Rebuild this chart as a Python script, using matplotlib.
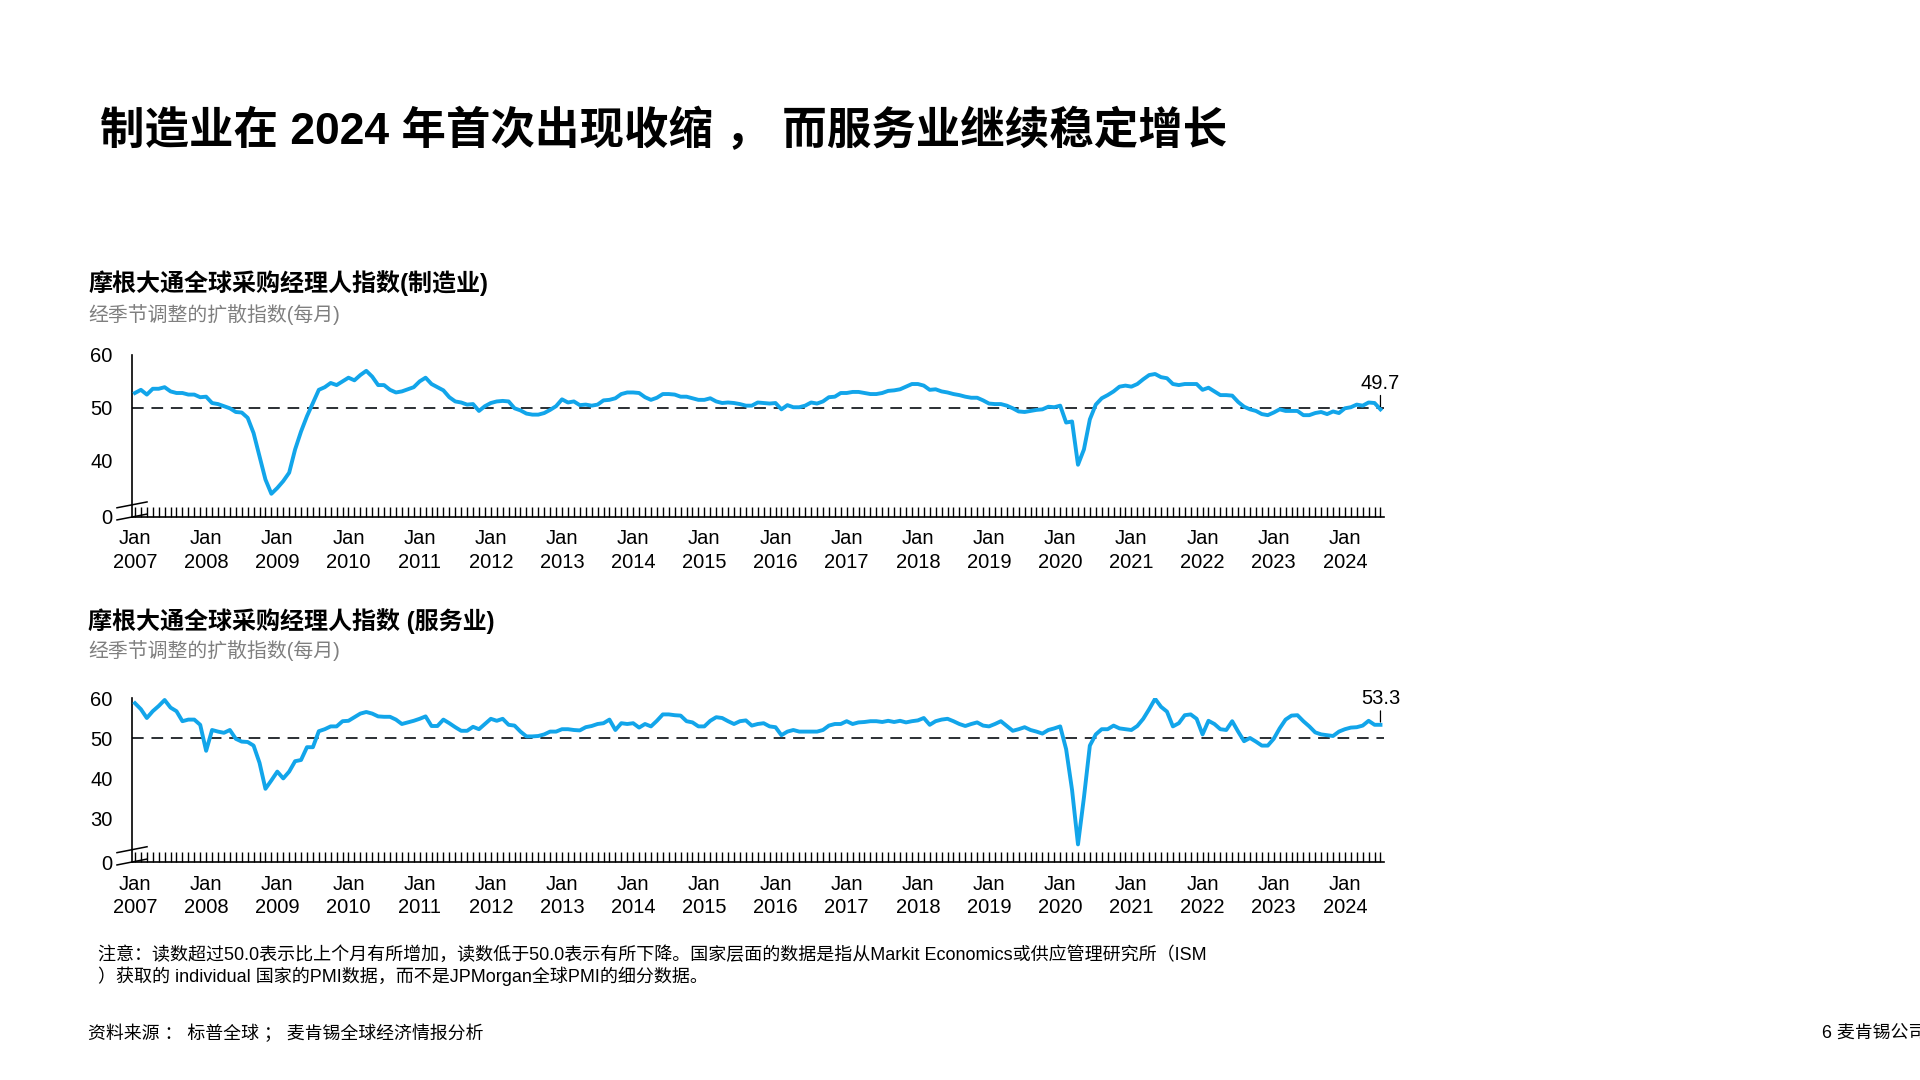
import numpy as np
import matplotlib
matplotlib.use("Agg")
import matplotlib.pyplot as plt
from matplotlib.ticker import MultipleLocator, FixedLocator

plt.rcParams['font.family'] = ['Liberation Sans', 'Noto Sans CJK SC', 'DejaVu Sans']

# JPMorgan global PMI, monthly, Jan 2007 - Jul 2024
mfg_pmi = [
    52.8, 53.4, 52.5, 53.6, 53.6, 53.9, 53.1, 52.8, 52.8, 52.5, 52.5, 52.0,  # 2007
    52.1, 50.9, 50.7, 50.3, 49.9, 49.2, 49.1, 48.1, 45.2, 40.8, 36.4, 33.7,  # 2008
    34.8, 36.1, 37.7, 42.1, 45.5, 48.4, 50.9, 53.4, 53.9, 54.7, 54.3, 55.0,  # 2009
    55.7, 55.2, 56.2, 57.0, 55.9, 54.3, 54.3, 53.4, 52.9, 53.1, 53.5, 53.9,  # 2010
    55.0, 55.7, 54.5, 53.9, 53.3, 52.0, 51.2, 51.0, 50.6, 50.7, 49.4, 50.3,  # 2011
    50.9, 51.2, 51.3, 51.2, 49.9, 49.5, 48.9, 48.7, 48.7, 49.0, 49.6, 50.3,  # 2012
    51.6, 51.0, 51.2, 50.5, 50.6, 50.4, 50.6, 51.4, 51.5, 51.8, 52.6, 52.9,  # 2013
    52.9, 52.8, 52.0, 51.5, 51.9, 52.6, 52.6, 52.5, 52.1, 52.1, 51.8, 51.5,  # 2014
    51.5, 51.8, 51.2, 50.9, 51.0, 50.9, 50.7, 50.4, 50.4, 51.0, 50.9, 50.8,  # 2015
    50.9, 49.7, 50.5, 50.1, 50.1, 50.4, 51.0, 50.8, 51.2, 52.0, 52.1, 52.8,  # 2016
    52.8, 53.0, 53.0, 52.8, 52.6, 52.6, 52.8, 53.2, 53.3, 53.5, 54.0, 54.5,  # 2017
    54.5, 54.2, 53.4, 53.5, 53.1, 52.9, 52.6, 52.4, 52.1, 51.9, 51.9, 51.4,  # 2018
    50.8, 50.7, 50.7, 50.4, 49.9, 49.3, 49.2, 49.4, 49.6, 49.7, 50.2, 50.1,  # 2019
    50.4, 47.2, 47.4, 39.2, 42.1, 47.8, 50.6, 51.8, 52.4, 53.1, 54.0, 54.2,  # 2020
    54.0, 54.5, 55.4, 56.2, 56.4, 55.8, 55.6, 54.5, 54.3, 54.5, 54.5, 54.5,  # 2021
    53.4, 53.8, 53.1, 52.4, 52.4, 52.3, 51.1, 50.2, 49.7, 49.4, 48.8, 48.6,  # 2022
    49.1, 49.7, 49.4, 49.4, 49.4, 48.6, 48.6, 49.0, 49.2, 48.8, 49.3, 49.0,  # 2023
    49.9, 50.1, 50.6, 50.4, 51.0, 50.9, 49.7,                                # 2024
]

svc_pmi = [
    58.7, 57.2, 55.0, 56.7, 58.0, 59.5, 57.6, 56.7, 54.2, 54.6, 54.6, 53.3,  # 2007
    46.8, 52.0, 51.6, 51.3, 52.0, 49.8, 49.1, 49.0, 48.1, 43.8, 37.3, 39.4,  # 2008
    41.6, 39.9, 41.6, 44.2, 44.5, 47.7, 47.7, 51.7, 52.2, 52.9, 52.9, 54.2,  # 2009
    54.3, 55.2, 56.1, 56.5, 56.1, 55.4, 55.3, 55.3, 54.6, 53.5, 53.9, 54.3,  # 2010
    54.8, 55.4, 53.0, 53.0, 54.6, 53.7, 52.7, 51.8, 51.8, 52.8, 52.2, 53.5,  # 2011
    54.8, 54.3, 54.8, 53.3, 53.1, 51.6, 50.4, 50.4, 50.5, 50.9, 51.6, 51.6,  # 2012
    52.2, 52.2, 52.0, 51.9, 52.7, 53.0, 53.5, 53.7, 54.6, 52.0, 53.7, 53.5,  # 2013
    53.7, 52.6, 53.5, 52.9, 54.3, 55.9, 55.9, 55.7, 55.6, 54.2, 53.9, 52.9,  # 2014
    52.9, 54.3, 55.2, 55.0, 54.2, 53.5, 54.2, 54.4, 53.1, 53.5, 53.7, 52.9,  # 2015
    52.7, 50.7, 51.6, 52.0, 51.6, 51.6, 51.6, 51.6, 52.0, 53.1, 53.5, 53.5,  # 2016
    54.2, 53.5, 53.9, 54.0, 54.2, 54.2, 54.0, 54.3, 54.0, 54.3, 53.9, 54.2,  # 2017
    54.4, 55.0, 53.3, 54.2, 54.6, 54.8, 54.2, 53.5, 53.0, 53.5, 53.9, 53.1,  # 2018
    52.9, 53.5, 54.2, 53.0, 51.8, 52.2, 52.7, 52.0, 51.6, 51.1, 52.0, 52.4,  # 2019
    52.9, 47.2, 37.0, 23.4, 35.1, 48.1, 50.9, 52.2, 52.2, 53.1, 52.4, 52.2,  # 2020
    52.0, 53.0, 54.8, 57.2, 59.8, 57.8, 56.6, 52.9, 53.7, 55.7, 55.9, 54.8,  # 2021
    50.9, 54.3, 53.5, 52.2, 52.0, 54.2, 51.6, 49.2, 50.0, 49.1, 48.1, 48.1,  # 2022
    49.8, 52.4, 54.6, 55.6, 55.7, 54.2, 52.9, 51.4, 50.9, 50.7, 50.5, 51.6,  # 2023
    52.2, 52.6, 52.7, 53.1, 54.3, 53.3, 53.3,                                # 2024
]

years = list(range(2007, 2025))
jan_labels = ["Jan\n%d" % y for y in years]

main_title = "制造业在 2024 年首次出现收缩 ， 而服务业继续稳定增长"
panels = [
    {"title": "摩根大通全球采购经理人指数(制造业)", "values": mfg_pmi,
     "yticks": [60, 50, 40], "ybottom": 29.3, "rect": [0.06875, 1 - 517 / 1080, 0.6521, 162 / 1080],
     "title_y": 283, "sub_y": 315},
    {"title": "摩根大通全球采购经理人指数 (服务业)", "values": svc_pmi,
     "yticks": [60, 50, 40, 30], "ybottom": 19.0, "rect": [0.06875, 1 - 862 / 1080, 0.6521, 164 / 1080],
     "title_y": 621, "sub_y": 651},
]
subtitle = "经季节调整的扩散指数(每月)"
note_lines = [
    "注意：读数超过50.0表示比上个月有所增加，读数低于50.0表示有所下降。国家层面的数据是指从Markit Economics或供应管理研究所（ISM",
    "）获取的 individual 国家的PMI数据，而不是JPMorgan全球PMI的细分数据。",
]
source = "资料来源 ： 标普全球 ； 麦肯锡全球经济情报分析"
page = "6 麦肯锡公司"

blue = "#12A5EA"
W, H = 1920, 1080

fig = plt.figure(figsize=(19.2, 10.8), dpi=100)
fig.patch.set_facecolor("white")

fig.text(100 / W, 1 - 131 / H, main_title, fontsize=32, fontweight="bold",
         va="center", ha="left", color="black")

for p in panels:
    ax = fig.add_axes(p["rect"])
    vals = p["values"]
    x = np.arange(len(vals))
    ax.plot(x, vals, color=blue, lw=2.8, solid_joinstyle="round", zorder=3)
    ax.axhline(50, color="#2b2f33", lw=1.4, ls=(0, (6, 4)), zorder=2)

    ax.set_xlim(-0.5, 210.6)
    ax.set_ylim(p["ybottom"], 60)
    for s in ["top", "right"]:
        ax.spines[s].set_visible(False)
    for s in ["left", "bottom"]:
        ax.spines[s].set_linewidth(1.2)
        ax.spines[s].set_color("black")

    ax.set_yticks(p["yticks"] + [p["ybottom"]])
    ax.set_yticklabels([str(v) for v in p["yticks"]] + ["0"])
    ax.tick_params(axis="y", length=0, pad=14, labelsize=14.5)

    ax.xaxis.set_major_locator(FixedLocator(np.arange(0, len(vals), 12)))
    ax.set_xticklabels(jan_labels, linespacing=1.3)
    ax.xaxis.set_minor_locator(MultipleLocator(1))
    ax.tick_params(axis="x", which="both", direction="in", length=7, width=1.0, color="black")
    ax.tick_params(axis="x", which="major", labelsize=14.5, pad=9)

    # axis break marks
    for yb in [0.0, 0.075]:
        ax.plot([-0.012, 0.012], [yb - 0.018, yb + 0.018], transform=ax.transAxes,
                color="black", lw=1.1, clip_on=False, zorder=4)

    last = vals[-1]
    ax.annotate("%.1f" % last, xy=(x[-1], last), xytext=(0, 12), textcoords="offset points",
                ha="center", va="bottom", fontsize=14.5,
                arrowprops=dict(arrowstyle="-", lw=0.9, color="black", shrinkA=0, shrinkB=2))

    fig.text(88 / W, 1 - p["title_y"] / H, p["title"], fontsize=17.3, fontweight="bold",
             va="center", ha="left", color="black")
    fig.text(88 / W, 1 - p["sub_y"] / H, subtitle, fontsize=14.3,
             va="center", ha="left", color="#7f7f7f")

fig.text(98 / W, 1 - 955 / H, note_lines[0], fontsize=13, va="center", ha="left")
fig.text(98 / W, 1 - 976 / H, note_lines[1], fontsize=13, va="center", ha="left")
fig.text(88 / W, 1 - 1034 / H, source, fontsize=12.9, va="center", ha="left")
# page footer runs off the right edge, as in the original slide
fig.text(1822 / W, 1 - 1034 / H, page, fontsize=12.9, va="center", ha="left")

fig.savefig("out.png", dpi=100, facecolor="white")
